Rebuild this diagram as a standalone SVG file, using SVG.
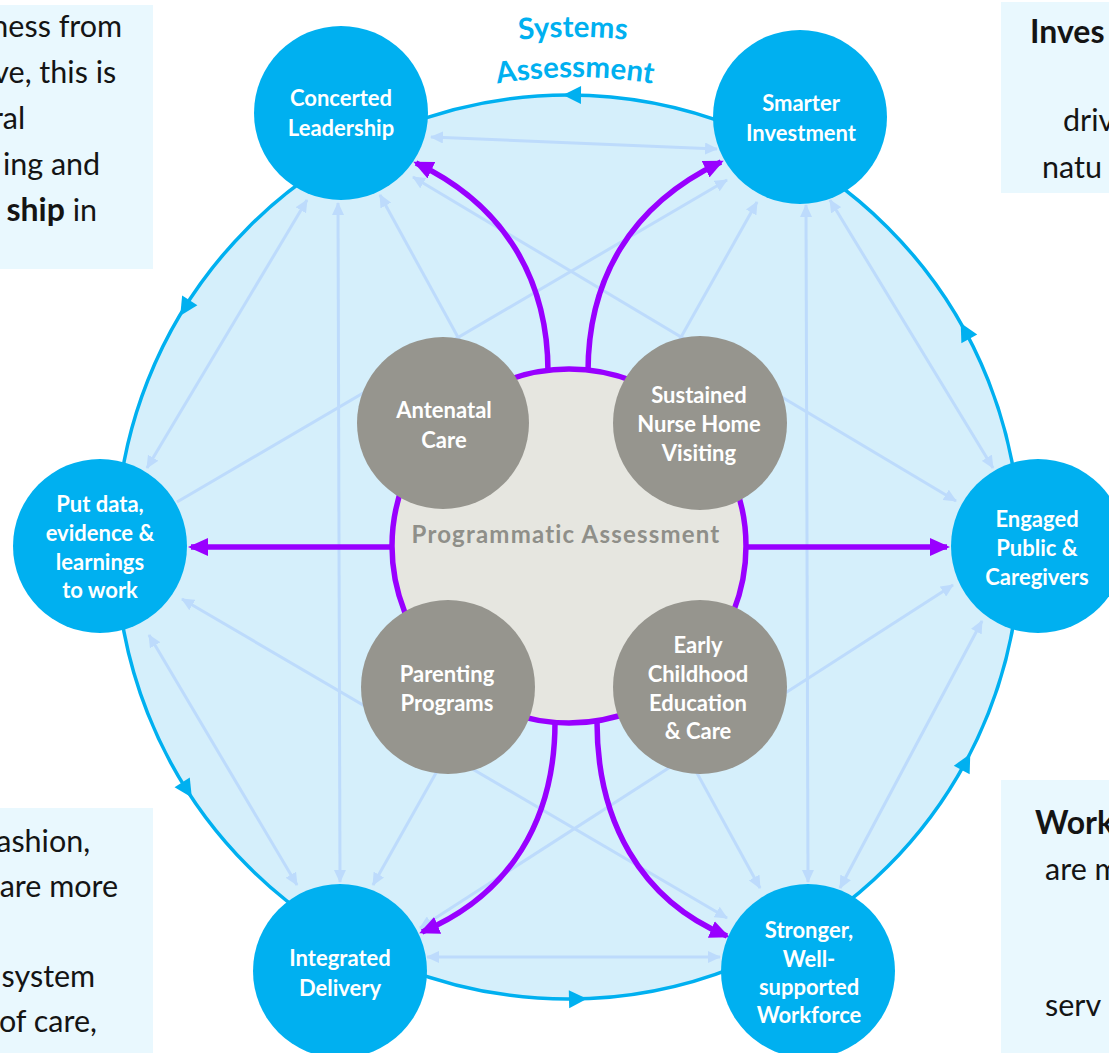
<svg xmlns="http://www.w3.org/2000/svg" xmlns:xlink="http://www.w3.org/1999/xlink" width="1109" height="1053" viewBox="0 0 1109 1053">
  <defs>
    <style>
      .box{fill:#E9F8FE}
      .note{font-family:Lato,"Open Sans",sans-serif;font-size:30.5px;fill:#141414}
      .b{font-weight:bold;font-size:32px}
      .ring{fill:#D5EFFB;stroke:#00B0F0;stroke-width:3.5}
      .ring-arrow{fill:#00B0F0}
      .link{stroke:#BDDBFC;stroke-width:3;fill:none;marker-start:url(#la);marker-end:url(#la)}
      .link.one{marker-start:none}
      .flow{stroke:#9900FF;stroke-width:5.5;fill:none;marker-end:url(#pa)}
      .node{fill:#00B0F0}
      .prog{fill:#96958E}
      .hub{fill:#E6E6E0;stroke:#9900FF;stroke-width:5.5}
      .lbl{font-family:Lato,"Open Sans",sans-serif;font-weight:bold;font-size:22px;fill:#FFFFFF;text-anchor:middle}
      .hub-lbl{font-family:Lato,"Open Sans",sans-serif;font-weight:bold;font-size:24px;letter-spacing:1.2px;fill:#8F8F89;text-anchor:middle}
      .title{font-family:Lato,"Open Sans",sans-serif;font-weight:bold;font-size:29.5px;fill:#00B0F0;text-anchor:middle}
    </style>
    <marker id="la" viewBox="0 0 13 12" refX="12" refY="6" markerWidth="13" markerHeight="12" markerUnits="userSpaceOnUse" orient="auto-start-reverse">
      <path d="M0,0 L13,6 L0,12 z" fill="#BDDBFC"/>
    </marker>
    <marker id="pa" viewBox="0 0 20 18" refX="17" refY="9" markerWidth="20" markerHeight="18" markerUnits="userSpaceOnUse" orient="auto">
      <path d="M0,0 L20,9 L0,18 z" fill="#9900FF"/>
    </marker>
    <path id="ra" d="M9,0 L-9,-9 L-9,9 z"/>
    <path id="arc-outer" d="M63,547 A510,510 0 0 1 1083,547"/>
    <path id="arc-inner" d="M105,547 A470,470 0 0 1 1045,547"/>
  </defs>

  <!-- side notes -->
  <g id="note-top-left">
    <rect class="box" x="0" y="5" width="153" height="264"/>
    <text class="note" text-anchor="end">
      <tspan x="130" y="37">ness from</tspan>
      <tspan x="124" y="83">ve, this is</tspan>
      <tspan x="33" y="129">ral</tspan>
      <tspan x="108" y="175">ing and</tspan>
      <tspan x="97" y="221"><tspan class="b">ship</tspan> in</tspan>
    </text>
  </g>
  <g id="note-top-right">
    <rect class="box" x="1001" y="2" width="108" height="191"/>
    <text class="note">
      <tspan class="b" x="1030" y="43">Inves</tspan>
      <tspan x="1063" y="131">driv</tspan>
      <tspan x="1042" y="178">natu</tspan>
    </text>
  </g>
  <g id="note-bottom-left">
    <rect class="box" x="0" y="808" width="153" height="245"/>
    <text class="note" text-anchor="end">
      <tspan x="98" y="852">ashion,</tspan>
      <tspan x="126" y="897">are more</tspan>
      <tspan x="103" y="987">system</tspan>
      <tspan x="97" y="1032">of care,</tspan>
    </text>
  </g>
  <g id="note-bottom-right">
    <rect class="box" x="1001" y="780" width="108" height="273"/>
    <text class="note">
      <tspan class="b" x="1035" y="834">Work</tspan>
      <tspan x="1045" y="880">are m</tspan>
      <tspan x="1045" y="1016">serv</tspan>
    </text>
  </g>

  <!-- systems assessment ring -->
  <g id="systems-ring">
    <circle class="ring" cx="568" cy="547" r="452"/>
    <text class="title"><textPath xlink:href="#arc-outer" href="#arc-outer" startOffset="50%">Systems</textPath></text>
    <text class="title"><textPath xlink:href="#arc-inner" href="#arc-inner" startOffset="50%">Assessment</textPath></text>
  </g>

  <!-- connectors -->
  <g id="connectors">
    <g id="links">
      <path class="link" d="M431,137 L717,149"/>
      <path class="link" d="M307,200 L147,468"/>
      <path class="link" d="M338,203 L340,882"/>
      <path class="link" d="M380,195 L760,888"/>
      <path class="link" d="M413,177 L956,501"/>
      <path class="link one" d="M177,502 L727,180"/>
      <path class="link" d="M757,202 L373,885"/>
      <path class="link" d="M806,205 L808,882"/>
      <path class="link" d="M830,200 L993,468"/>
      <path class="link" d="M182,599 L727,918"/>
      <path class="link" d="M149,635 L297,885"/>
      <path class="link" d="M953,585 L420,928"/>
      <path class="link" d="M982,621 L840,888"/>
      <path class="link" d="M427,957 L720,957"/>
    </g>
    <g id="ring-arrows" class="ring-arrow">
      <use href="#ra" xlink:href="#ra" transform="translate(572,95) rotate(-179.5)"/>
      <use href="#ra" xlink:href="#ra" transform="translate(185,308) rotate(122)"/>
      <use href="#ra" xlink:href="#ra" transform="translate(187,790) rotate(57.5)"/>
      <use href="#ra" xlink:href="#ra" transform="translate(578,999) rotate(-1.3)"/>
      <use href="#ra" xlink:href="#ra" transform="translate(966,762) rotate(-61.6)"/>
      <use href="#ra" xlink:href="#ra" transform="translate(965,331) rotate(-118.5)"/>
    </g>
  </g>

  <!-- programmatic hub -->
  <g id="hub">
    <circle class="hub" cx="569" cy="546" r="177"/>
    <text class="hub-lbl" x="566" y="543">Programmatic Assessment</text>
  </g>

  <g id="connectors-flow">
    <path class="flow" d="M548,372 C548,280 505,205 416,163"/>
    <path class="flow" d="M588,372 C588,280 630,205 721,162"/>
    <path class="flow" d="M555,722 C555,820 510,895 422,932"/>
    <path class="flow" d="M597,722 C597,820 640,900 727,936"/>
    <path class="flow" d="M391,547 L191,547"/>
    <path class="flow" d="M746,547 L947,547"/>
  </g>

  <!-- programmes -->
  <g id="antenatal-care">
    <circle class="prog" cx="443" cy="423" r="86"/>
    <text class="lbl"><tspan x="444" y="418">Antenatal</tspan><tspan x="444" y="448">Care</tspan></text>
  </g>
  <g id="nurse-home-visiting">
    <circle class="prog" cx="700" cy="423" r="87"/>
    <text class="lbl"><tspan x="699" y="403">Sustained</tspan><tspan x="699" y="432">Nurse Home</tspan><tspan x="699" y="461">Visiting</tspan></text>
  </g>
  <g id="parenting-programs">
    <circle class="prog" cx="448" cy="687" r="87"/>
    <text class="lbl"><tspan x="447" y="682">Parenting</tspan><tspan x="447" y="711">Programs</tspan></text>
  </g>
  <g id="early-childhood">
    <circle class="prog" cx="700" cy="687" r="87"/>
    <text class="lbl"><tspan x="698" y="653">Early</tspan><tspan x="698" y="682">Childhood</tspan><tspan x="698" y="711">Education</tspan><tspan x="698" y="739">&amp; Care</tspan></text>
  </g>

  <!-- system levers -->
  <g id="concerted-leadership">
    <circle class="node" cx="341" cy="113" r="87"/>
    <text class="lbl"><tspan x="341" y="106">Concerted</tspan><tspan x="341" y="136">Leadership</tspan></text>
  </g>
  <g id="smarter-investment">
    <circle class="node" cx="800" cy="117" r="87"/>
    <text class="lbl"><tspan x="801" y="111">Smarter</tspan><tspan x="801" y="141">Investment</tspan></text>
  </g>
  <g id="put-data-to-work">
    <circle class="node" cx="100" cy="546" r="87"/>
    <text class="lbl"><tspan x="100" y="512">Put data,</tspan><tspan x="100" y="541">evidence &amp;</tspan><tspan x="100" y="570">learnings</tspan><tspan x="100" y="598">to work</tspan></text>
  </g>
  <g id="engaged-public">
    <circle class="node" cx="1038" cy="546" r="87"/>
    <text class="lbl"><tspan x="1037" y="527">Engaged</tspan><tspan x="1037" y="556">Public &amp;</tspan><tspan x="1037" y="585">Caregivers</tspan></text>
  </g>
  <g id="integrated-delivery">
    <circle class="node" cx="340" cy="971" r="87"/>
    <text class="lbl"><tspan x="340" y="966">Integrated</tspan><tspan x="340" y="996">Delivery</tspan></text>
  </g>
  <g id="stronger-workforce">
    <circle class="node" cx="808" cy="971" r="87"/>
    <text class="lbl"><tspan x="809" y="938">Stronger,</tspan><tspan x="809" y="967">Well-</tspan><tspan x="809" y="995">supported</tspan><tspan x="809" y="1023">Workforce</tspan></text>
  </g>
</svg>
